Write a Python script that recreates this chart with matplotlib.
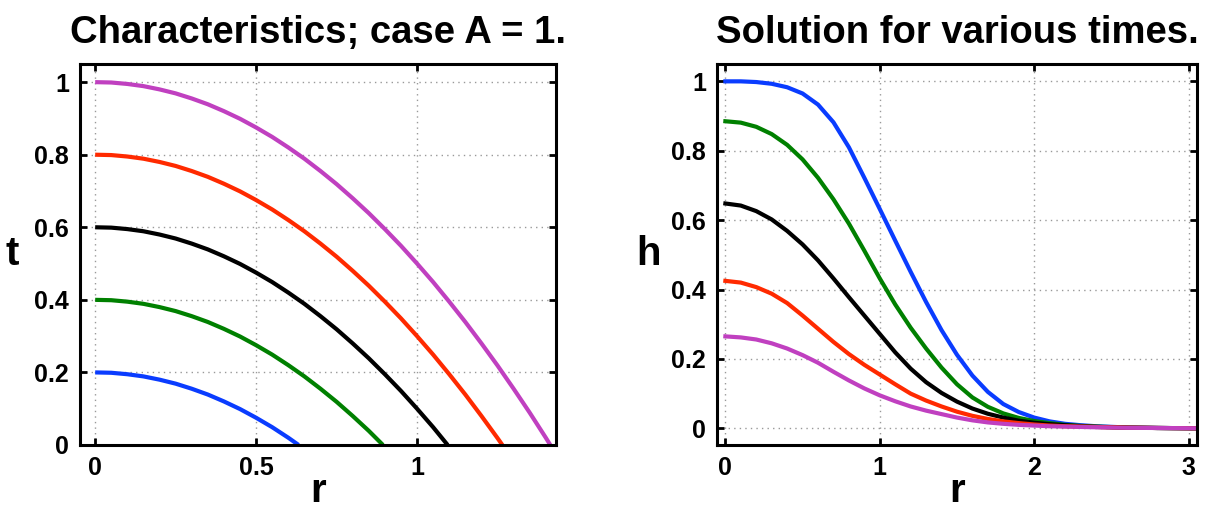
import matplotlib
matplotlib.use("Agg")
import matplotlib.pyplot as plt

plt.rcParams['font.family'] = ['Liberation Sans', 'DejaVu Sans']
plt.rcParams['font.weight'] = 'bold'

# ---- Left panel: characteristics (r, t) ----
char_colors = ['#0a3cff', '#008000', '#000000', '#ff2a00', '#c040c0']
char_r = [
    [0, 0.05, 0.1, 0.15, 0.2, 0.25, 0.3, 0.35, 0.4, 0.45, 0.5, 0.55, 0.6, 0.632],
    [0, 0.05, 0.1, 0.15, 0.2, 0.25, 0.3, 0.35, 0.4, 0.45, 0.5, 0.55, 0.6, 0.65,
     0.7, 0.75, 0.8, 0.85, 0.894],
    [0, 0.05, 0.1, 0.15, 0.2, 0.25, 0.3, 0.35, 0.4, 0.45, 0.5, 0.55, 0.6, 0.65,
     0.7, 0.75, 0.8, 0.85, 0.9, 0.95, 1.0, 1.05, 1.095],
    [0, 0.05, 0.1, 0.15, 0.2, 0.25, 0.3, 0.35, 0.4, 0.45, 0.5, 0.55, 0.6, 0.65,
     0.7, 0.75, 0.8, 0.85, 0.9, 0.95, 1.0, 1.05, 1.1, 1.15, 1.2, 1.25, 1.265],
    [0, 0.05, 0.1, 0.15, 0.2, 0.25, 0.3, 0.35, 0.4, 0.45, 0.5, 0.55, 0.6, 0.65,
     0.7, 0.75, 0.8, 0.85, 0.9, 0.95, 1.0, 1.05, 1.1, 1.15, 1.2, 1.25, 1.3, 1.35,
     1.4, 1.414],
]
char_t = [
    [0.2, 0.199, 0.195, 0.189, 0.18, 0.169, 0.155, 0.139, 0.12, 0.099, 0.075,
     0.049, 0.02, 0.0],
    [0.4, 0.399, 0.395, 0.389, 0.38, 0.369, 0.355, 0.339, 0.32, 0.299, 0.275,
     0.249, 0.22, 0.189, 0.155, 0.119, 0.08, 0.039, 0.0],
    [0.6, 0.599, 0.595, 0.589, 0.58, 0.569, 0.555, 0.539, 0.52, 0.499, 0.475,
     0.449, 0.42, 0.389, 0.355, 0.319, 0.28, 0.239, 0.195, 0.149, 0.1, 0.049, 0.0],
    [0.8, 0.799, 0.795, 0.789, 0.78, 0.769, 0.755, 0.739, 0.72, 0.699, 0.675,
     0.649, 0.62, 0.589, 0.555, 0.519, 0.48, 0.439, 0.395, 0.349, 0.3, 0.249,
     0.195, 0.139, 0.08, 0.019, 0.0],
    [1.0, 0.999, 0.995, 0.989, 0.98, 0.969, 0.955, 0.939, 0.92, 0.899, 0.875,
     0.849, 0.82, 0.789, 0.755, 0.719, 0.68, 0.639, 0.595, 0.549, 0.5, 0.449,
     0.395, 0.339, 0.28, 0.219, 0.155, 0.089, 0.02, 0.0],
]
left_xticks = [0, 0.5, 1]
left_xticklabels = ['0', '0.5', '1']
left_yticks = [0, 0.2, 0.4, 0.6, 0.8, 1]
left_yticklabels = ['0', '0.2', '0.4', '0.6', '0.8', '1']

# ---- Right panel: solution h(r) for various times ----
sol_r = [0, 0.1, 0.2, 0.3, 0.4, 0.5, 0.6, 0.7, 0.8, 0.9, 1.0, 1.1, 1.2, 1.3,
         1.4, 1.5, 1.6, 1.7, 1.8, 1.9, 2.0, 2.1, 2.2, 2.3, 2.4, 2.6, 2.8, 3.0, 3.1]
sol_blue = [1.0, 1.0, 0.998, 0.993, 0.983, 0.965, 0.933, 0.882, 0.81, 0.722,
            0.632, 0.541, 0.451, 0.364, 0.283, 0.212, 0.152, 0.105, 0.07, 0.047,
            0.031, 0.02, 0.013, 0.009, 0.006, 0.0025, 0.001, 0.0003, 0.0]
sol_green = [0.885, 0.881, 0.869, 0.848, 0.817, 0.775, 0.722, 0.66, 0.59, 0.512,
             0.432, 0.357, 0.29, 0.23, 0.175, 0.127, 0.089, 0.062, 0.043, 0.03,
             0.021, 0.015, 0.01, 0.007, 0.005, 0.002, 0.001, 0.0003, 0.0]
sol_black = [0.648, 0.642, 0.626, 0.602, 0.569, 0.53, 0.484, 0.432, 0.378, 0.325,
             0.272, 0.219, 0.172, 0.133, 0.102, 0.077, 0.057, 0.042, 0.031, 0.022,
             0.016, 0.012, 0.009, 0.006, 0.004, 0.002, 0.001, 0.0003, 0.0]
sol_red = [0.425, 0.42, 0.407, 0.388, 0.361, 0.325, 0.287, 0.249, 0.214, 0.183,
           0.155, 0.127, 0.1, 0.08, 0.063, 0.048, 0.036, 0.027, 0.02, 0.015,
           0.011, 0.008, 0.006, 0.005, 0.004, 0.002, 0.001, 0.0003, 0.0]
sol_magenta = [0.265, 0.262, 0.256, 0.245, 0.23, 0.211, 0.189, 0.163, 0.138, 0.115,
               0.095, 0.078, 0.063, 0.051, 0.041, 0.031, 0.023, 0.017, 0.013, 0.01,
               0.008, 0.006, 0.005, 0.004, 0.003, 0.0015, 0.001, 0.0003, 0.0]
sol_series = [sol_blue, sol_green, sol_black, sol_red, sol_magenta]
sol_colors = ['#0a3cff', '#008000', '#000000', '#ff2a00', '#c040c0']
right_xticks = [0, 1, 2, 3]
right_xticklabels = ['0', '1', '2', '3']
right_yticks = [0, 0.2, 0.4, 0.6, 0.8, 1]
right_yticklabels = ['0', '0.2', '0.4', '0.6', '0.8', '1']

fig = plt.figure(figsize=(12.11, 5.12), dpi=100)
ax1 = fig.add_axes([0.0661, 0.1309, 0.3931, 0.7441])
ax2 = fig.add_axes([0.5921, 0.1309, 0.3964, 0.7441])


def style(ax):
    ax.grid(True, color='#999999', linestyle=(0, (1, 3)), linewidth=1.0)
    ax.set_axisbelow(True)
    ax.tick_params(direction='in', top=True, right=True, length=5, width=2,
                   labelsize=18, pad=8)
    for lab in ax.get_xticklabels() + ax.get_yticklabels():
        lab.set_fontweight('bold')
    for s in ax.spines.values():
        s.set_linewidth(2.2)


for r, t, c in zip(char_r, char_t, char_colors):
    ax1.plot(r, t, color=c, linewidth=3.0, solid_capstyle='butt')
ax1.set_xlim(-0.047, 1.432)
ax1.set_ylim(0, 1.05)
ax1.set_xticks(left_xticks)
ax1.set_xticklabels(left_xticklabels)
ax1.set_yticks(left_yticks)
ax1.set_yticklabels(left_yticklabels)
style(ax1)
ax1.set_xlabel('r', fontsize=29, fontweight='bold', labelpad=-6)
ax1.set_ylabel('t', fontsize=29, fontweight='bold', rotation=0, labelpad=16, va='center')
ax1.set_title('Characteristics; case A = 1.', fontsize=27.5, fontweight='bold', pad=15)

for h, c in zip(sol_series, sol_colors):
    ax2.plot(sol_r, h, color=c, linewidth=3.0)
ax2.set_xlim(-0.054, 3.055)
ax2.set_ylim(-0.048, 1.05)
ax2.set_xticks(right_xticks)
ax2.set_xticklabels(right_xticklabels)
ax2.set_yticks(right_yticks)
ax2.set_yticklabels(right_yticklabels)
style(ax2)
ax2.set_xlabel('r', fontsize=29, fontweight='bold', labelpad=-6)
ax2.set_ylabel('h', fontsize=29, fontweight='bold', rotation=0, labelpad=16, va='center')
ax2.set_title('Solution for various times.', fontsize=27.5, fontweight='bold', pad=15)

fig.savefig('out.png', dpi=100)
